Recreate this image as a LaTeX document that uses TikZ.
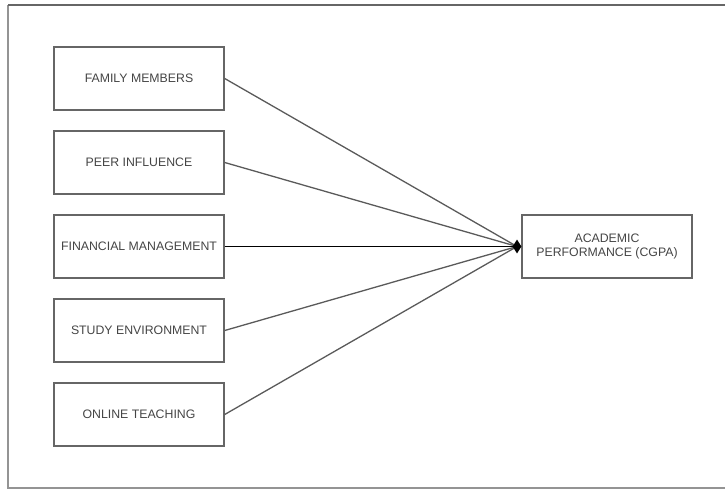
\documentclass[tikz,border=0pt]{standalone}
\usepackage{fontspec}
\setmainfont{Liberation Sans}
\usetikzlibrary{shapes.geometric}
\definecolor{boxc}{HTML}{666666}
\definecolor{txtc}{HTML}{444444}
\definecolor{linec}{HTML}{5A5A5A}
\begin{document}
\begin{tikzpicture}[x=1pt,y=-1pt,
  var/.style={draw=boxc,line width=1.4pt,minimum width=170pt,minimum height=63pt,inner sep=0pt,
     text=txtc,font=\fontsize{12.3}{14.5}\selectfont,align=center},
  conn/.style={draw=linec,line width=1.3pt}]
\useasboundingbox (0,0) rectangle (725,489);
\draw[draw=boxc!70,line width=1.5pt] (8,5) -- (8,488) -- (730,488);
\draw[draw=boxc,line width=1.5pt] (8,5) -- (730,5);
\node[var] (fam) at (139,78.5) {FAMILY MEMBERS};
\node[var] (peer) at (139,162.5) {PEER INFLUENCE};
\node[var] (fin) at (139,246.5) {FINANCIAL MANAGEMENT};
\node[var] (stud) at (139,330.5) {STUDY ENVIRONMENT};
\node[var] (onl) at (139,414.5) {ONLINE TEACHING};
\node[var] (acad) at (607,246.5) {ACADEMIC\\PERFORMANCE (CGPA)};
\coordinate (tip) at (517,246.5);
\draw[conn] (fam.east) -- (tip);
\draw[conn] (peer.east) -- (tip);
\draw[draw=black,line width=1.5pt] (fin.east) -- (tip);
\draw[conn] (stud.east) -- (tip);
\draw[conn] (onl.east) -- (tip);
\node[diamond,fill=black,inner sep=0pt,minimum width=9pt,minimum height=14pt] (dia) at (517,246.5) {};
\end{tikzpicture}
\end{document}
